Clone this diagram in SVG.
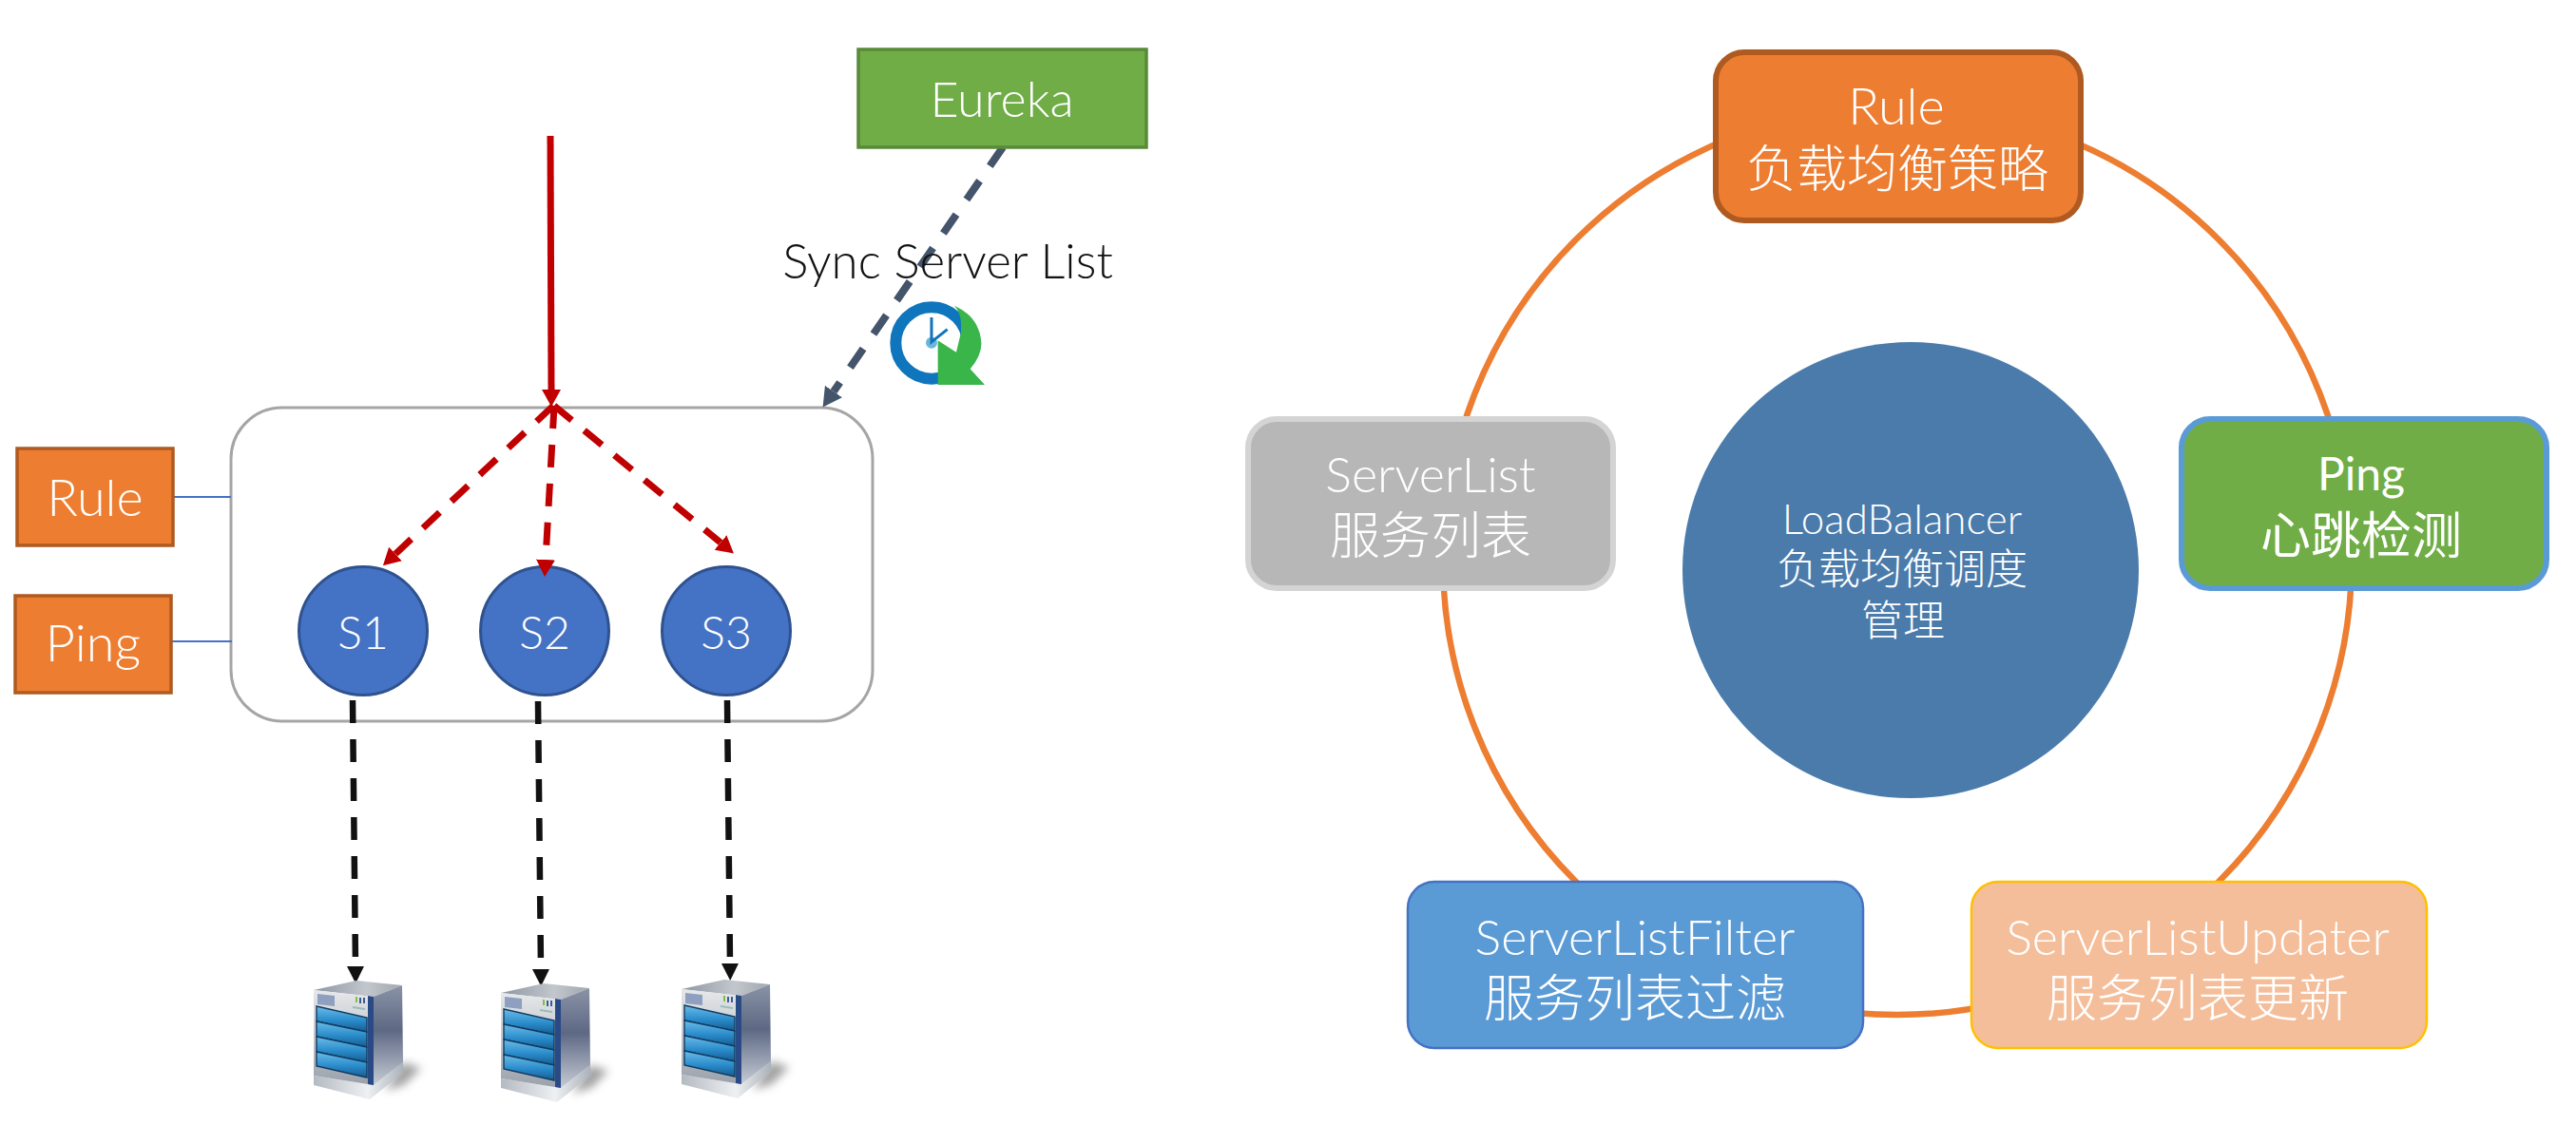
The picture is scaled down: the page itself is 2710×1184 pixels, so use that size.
<svg xmlns="http://www.w3.org/2000/svg" xmlns:xlink="http://www.w3.org/1999/xlink" width="2710" height="1184" viewBox="0 0 2710 1184">
<style>
text{font-family:Lato,"Noto Sans CJK SC",sans-serif;font-weight:300;fill:#fff;text-anchor:middle;font-size:52px}
.cjk{font-family:"Noto Sans CJK SC",sans-serif;font-size:53px}
.sm{font-size:54px}
.dk{fill:#111;font-size:51px}
.s{font-size:48px}
.lb{font-size:44px}
.lc{font-size:44px}
.b{font-weight:400}
.pg{font-size:48px}
.o{fill:#ED7D31;stroke:#AE5A21;stroke-width:3.5}
.sv{fill:#4472C4;stroke:#2F528F;stroke-width:3}
.ln{stroke:#4472C4;stroke-width:1.8;fill:none}
.red{stroke:#C00000;stroke-width:7;fill:none}
.rd{stroke-dasharray:24 17}
.blk{stroke:#111;stroke-width:6.5;fill:none;stroke-dasharray:24 17}
</style>
<defs>
<marker id="ar" markerUnits="userSpaceOnUse" markerWidth="22" markerHeight="22" refX="0" refY="10" orient="auto"><path d="M0 0L18 10L0 20Z" fill="#C00000"/></marker>
<marker id="ag" markerUnits="userSpaceOnUse" markerWidth="22" markerHeight="24" refX="0" refY="11" orient="auto"><path d="M0 0L20 11L0 22Z" fill="#44546A"/></marker>
<marker id="ab" markerUnits="userSpaceOnUse" markerWidth="20" markerHeight="20" refX="0" refY="9" orient="auto"><path d="M0 0L18 9L0 18Z" fill="#111"/></marker>
<linearGradient id="gTop" x1="0" y1="0" x2="1" y2="0"><stop offset="0" stop-color="#8d96a3"/><stop offset=".6" stop-color="#c3c7cd"/><stop offset="1" stop-color="#a0a6ae"/></linearGradient>
<linearGradient id="gSide" x1="0" y1="0" x2="0" y2="1"><stop offset="0" stop-color="#8a93a6"/><stop offset=".45" stop-color="#5d6884"/><stop offset="1" stop-color="#c6ccd4"/></linearGradient>
<linearGradient id="gFront" x1="0" y1="0" x2="0" y2="1"><stop offset="0" stop-color="#e6e8ea"/><stop offset="1" stop-color="#9aa1ab"/></linearGradient>
<linearGradient id="gBlue" x1="0" y1="0" x2="0" y2="1"><stop offset="0" stop-color="#6bbce8"/><stop offset=".55" stop-color="#2a8ccb"/><stop offset="1" stop-color="#155c92"/></linearGradient>
<linearGradient id="gBase" x1="0" y1="0" x2="1" y2="0"><stop offset="0" stop-color="#b4bac2"/><stop offset=".6" stop-color="#eef0f2"/><stop offset="1" stop-color="#a9b0b9"/></linearGradient>
<filter id="bl" x="-50%" y="-50%" width="200%" height="200%"><feGaussianBlur stdDeviation="5"/></filter>
<g id="server">
<path d="M424 1118L443 1124L425 1142L405 1148Z" fill="#555" opacity=".55" filter="url(#bl)"/>
<path d="M330 1132L393 1142L424 1118L425 1128L389 1157L330 1142Z" fill="url(#gBase)"/>
<path d="M330 1042L375 1032L423 1037L393 1049Z" fill="url(#gTop)"/>
<path d="M393 1049L423 1037L424 1118L393 1142Z" fill="url(#gSide)"/>
<path d="M330 1042L393 1049V1142L330 1132Z" fill="url(#gFront)"/>
<path d="M387 1048L393 1049V1142L387 1141Z" fill="#2a4a86"/>
<path d="M334 1046L352 1048V1059L334 1057Z" fill="#8f9fc0"/>
<path d="M333 1059L386 1071V1134L333 1122Z" fill="#2c86c8"/>
<g fill="url(#gBlue)" stroke="#123b5f" stroke-width="1.400">
<path d="M333 1059L386 1071V1086L333 1075Z"/><path d="M333 1075L386 1086V1102L333 1091Z"/><path d="M333 1091L386 1102V1118L333 1107Z"/><path d="M333 1107L386 1118V1134L333 1122Z"/>
</g>
<path d="M375 1049V1055" stroke="#7cc243" stroke-width="2"/><path d="M379 1050V1056M383 1050V1056" stroke="#3e5a98" stroke-width="2"/>
<path d="M371 1060L384 1062" stroke="#9bb" stroke-width="1.800"/>
</g>
</defs>
<rect width="2710" height="1184" fill="#fff"/>
<g id="container"><rect x="243" y="429" width="675" height="330" rx="54" fill="#fff" stroke="#A5A5A5" stroke-width="3"/></g>
<g id="s1"><circle class="sv" cx="382" cy="664" r="67.500"/><text class="s" x="382" y="683">S1</text></g>
<g id="s2"><circle class="sv" cx="573" cy="664" r="67.500"/><text class="s" x="573" y="683">S2</text></g>
<g id="s3"><circle class="sv" cx="764" cy="664" r="67.500"/><text class="s" x="764" y="683">S3</text></g>
<g id="connectors">
<path class="ln" d="M182 523H243M180 675H244"/>
<circle cx="1996" cy="590" r="478" fill="none" stroke="#ED7D31" stroke-width="6.500"/>
<path d="M1055 155L877 412" stroke="#44546A" stroke-width="8" fill="none" stroke-dasharray="24 19" marker-end="url(#ag)"/>
<path class="red" d="M579 143L580 410" marker-end="url(#ar)"/>
<path class="red rd" d="M582 427L416 583" marker-end="url(#ar)"/>
<path class="red rd" d="M583 427L574 589" marker-end="url(#ar)"/>
<path class="red rd" d="M583 427L758 571" marker-end="url(#ar)"/>
<path class="blk" d="M371 737L374 1017" marker-end="url(#ab)"/>
<path class="blk" d="M566 738L569 1020" marker-end="url(#ab)"/>
<path class="blk" d="M765 737L768 1014" marker-end="url(#ab)"/>
</g>
<g id="eureka"><rect x="903" y="52" width="303" height="103" fill="#70AD47" stroke="#5A8A39" stroke-width="3.500"/><text x="1054" y="123">Eureka</text></g>
<g id="sync-label"><text class="dk" x="997" y="293">Sync Server List</text></g>
<g id="clock" transform="translate(780 30) scale(.3333)">
<circle cx="600" cy="993" r="113" fill="none" stroke="#0F75BC" stroke-width="36"/>
<path d="M620 1125H768L722 1075Q760 1030 757 990Q750 910 672 875Q695 900 693 940V960L678 1022L620 985Z" fill="#39B54A"/>
<circle cx="600" cy="992" r="18" fill="#6EB5DC"/>
<path d="M600 912V990L650 950" fill="none" stroke="#0F75BC" stroke-width="9"/>
</g>
<g id="rule-small"><rect class="o" x="18" y="472" width="164" height="102"/><text class="sm" x="100" y="543">Rule</text></g>
<g id="ping-small"><rect class="o" x="16" y="627" width="164" height="102"/><text class="sm" x="98" y="696">Ping</text></g>
<g id="server1"><use xlink:href="#server" href="#server"/></g>
<g id="server2"><use xlink:href="#server" href="#server" transform="translate(197 3)"/></g>
<g id="server3"><use xlink:href="#server" href="#server" transform="translate(387 -1)"/></g>
<g id="loadbalancer"><circle cx="2010" cy="600" r="240" fill="#4A7BAB"/><text class="lb" x="2001" y="562">LoadBalancer</text><text class="cjk lc" x="2001" y="615">负载均衡调度</text><text class="cjk lc" x="2002" y="669">管理</text></g>
<g id="rule"><rect x="1805" y="55" width="384" height="177" rx="30" fill="#ED7D31" stroke="#AE5A21" stroke-width="6"/><text class="sm" x="1995" y="131">Rule</text><text class="cjk" x="1996" y="197">负载均衡策略</text></g>
<g id="ping"><rect x="2295" y="441" width="384" height="178" rx="30" fill="#70AD47" stroke="#5B9BD5" stroke-width="6"/><text class="b pg" x="2484" y="516">Ping</text><text class="cjk b" x="2484" y="583">心跳检测</text></g>
<g id="serverlist"><rect x="1313" y="441" width="384" height="178" rx="30" fill="#B7B7B7" stroke="#D4D4D4" stroke-width="6"/><text x="1505" y="518">ServerList</text><text class="cjk" x="1505" y="583">服务列表</text></g>
<g id="filter"><rect x="1481" y="928" width="479" height="175" rx="28" fill="#5B9BD5" stroke="#4472C4" stroke-width="2.500"/><text x="1720" y="1005">ServerListFilter</text><text class="cjk" x="1720" y="1070">服务列表过滤</text></g>
<g id="updater"><rect x="2074" y="928" width="479" height="175" rx="28" fill="#F4BE9A" stroke="#FFC000" stroke-width="2.500"/><text x="2312" y="1005">ServerListUpdater</text><text class="cjk" x="2312" y="1070">服务列表更新</text></g>
</svg>
